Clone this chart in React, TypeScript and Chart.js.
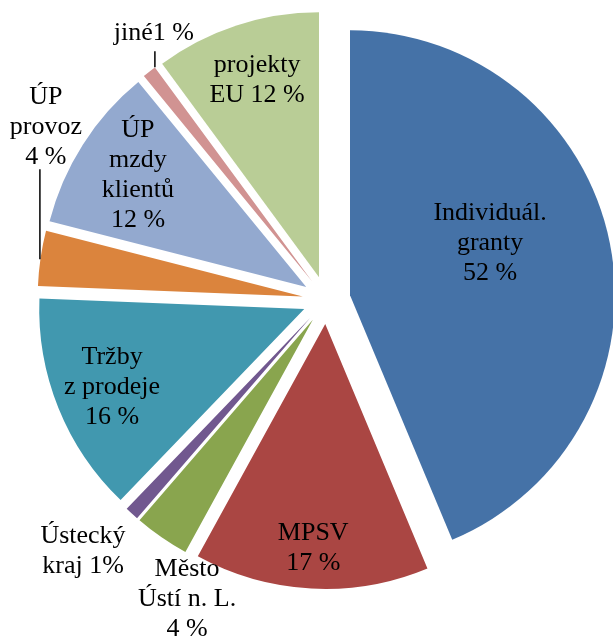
import React, { useEffect, useRef } from "react";
import { Chart, registerables } from "chart.js";

Chart.register(...registerables);

// ---- data ----
const categories = [
  "Individuál. granty",
  "MPSV",
  "Město Ústí n. L.",
  "Ústecký kraj",
  "Tržby z prodeje",
  "ÚP provoz",
  "ÚP mzdy klientů",
  "jiné",
  "projekty EU",
];
const values = [52, 17, 4, 1, 16, 4, 12, 1, 12];
const labelTemplates = [
  ["Individuál.", "granty", "{v} %"],
  ["MPSV", "{v} %"],
  ["Město", "Ústí n. L.", "{v} %"],
  ["Ústecký", "kraj {v}%"],
  ["Tržby", "z prodeje", "{v} %"],
  ["ÚP", "provoz", "{v} %"],
  ["ÚP", "mzdy", "klientů", "{v} %"],
  ["jiné{v} %"],
  ["projekty", "EU {v} %"],
];

// ---- styles / layout ----
const colors = [
  "#4572A7",
  "#AA4643",
  "#89A54E",
  "#71588F",
  "#4198AF",
  "#DB843D",
  "#93A9CF",
  "#D19392",
  "#B9CD96",
];
const EXPLODE = 24;
const RADIUS = 265;
const FONT_SIZE = 26;
const LINE_H = 30;
const FONT = `${FONT_SIZE}px 'Liberation Serif', 'DejaVu Serif', serif`;
// label placement relative to exploded slice apex: angle (deg, clockwise from 12 o'clock), distance as fraction of radius
const labelPlacement = [
  { a: 68.8, r: 0.567 },
  { a: 183.1, r: 0.839 },
  { a: 204.4, r: 1.149 },
  { a: 224.4, r: 1.226 },
  { a: 248.4, r: 0.78 },
  { a: 303.7, r: 1.165 },
  { a: 304.1, r: 0.767 },
  { a: 327.7, r: 1.115 },
  { a: 342.7, r: 0.786 },
];
const leaders: Record<number, { dx: number; y1: number; y2: number }> = {
  5: { dx: -6, y1: 44, y2: 134 },
  7: { dx: 1, y1: 20, y2: 36 },
};

const explodePlugin = {
  id: "explodeSlices",
  beforeDatasetDraw(chart: any, args: any) {
    const ctx = chart.ctx;
    args.meta.data.forEach((arc: any) => {
      const mid = (arc.startAngle + arc.endAngle) / 2;
      ctx.save();
      ctx.translate(Math.cos(mid) * EXPLODE, Math.sin(mid) * EXPLODE);
      arc.draw(ctx);
      ctx.restore();
    });
    return false;
  },
};

const labelPlugin = {
  id: "sliceLabels",
  afterDraw(chart: any) {
    const ctx = chart.ctx;
    const meta = chart.getDatasetMeta(0);
    ctx.save();
    ctx.fillStyle = "#000";
    ctx.textAlign = "center";
    ctx.textBaseline = "alphabetic";
    meta.data.forEach((arc: any, i: number) => {
      const mid = (arc.startAngle + arc.endAngle) / 2;
      const ax = arc.x + Math.cos(mid) * EXPLODE;
      const ay = arc.y + Math.sin(mid) * EXPLODE;
      const p = labelPlacement[i];
      const th = ((p.a - 90) * Math.PI) / 180;
      const cx = ax + Math.cos(th) * p.r * arc.outerRadius;
      const cy = ay + Math.sin(th) * p.r * arc.outerRadius;
      const lines = labelTemplates[i].map((s) => s.replace("{v}", String(values[i])));
      const n = lines.length;
      lines.forEach((ln, k) => {
        const y = cy + (k - (n - 1) / 2) * LINE_H + FONT_SIZE * 0.33;
        ctx.font = FONT;
        ctx.fillText(ln, cx, y);
      });
      const l = leaders[i];
      if (l) {
        ctx.beginPath();
        ctx.strokeStyle = "#000";
        ctx.lineWidth = 1.5;
        ctx.moveTo(cx + l.dx, cy + l.y1);
        ctx.lineTo(cx + l.dx, cy + l.y2);
        ctx.stroke();
      }
    });
    ctx.restore();
  },
};

export default function App() {
  const ref = useRef<HTMLCanvasElement | null>(null);
  useEffect(() => {
    if (!ref.current) return;
    const chart = new Chart(ref.current, {
      type: "pie",
      data: {
        labels: categories,
        datasets: [
          {
            data: values,
            backgroundColor: colors,
            borderWidth: 0,
            offset: 0,
            hoverOffset: 0,
          },
        ],
      },
      options: {
        responsive: false,
        animation: false,
        events: [],
        radius: RADIUS,
        layout: { padding: { left: 0, top: 0, right: 47, bottom: 39 } },
        plugins: {
          legend: { display: false },
          tooltip: { enabled: false },
          title: { display: false },
        },
      } as any,
      plugins: [explodePlugin, labelPlugin],
    });
    return () => chart.destroy();
  }, []);
  return (
    <div
      style={{
        position: "fixed",
        left: 0,
        top: 0,
        width: 613,
        height: 639,
        overflow: "hidden",
        background: "#fff",
      }}
    >
      <canvas ref={ref} width={700} height={639} />
    </div>
  );
}
